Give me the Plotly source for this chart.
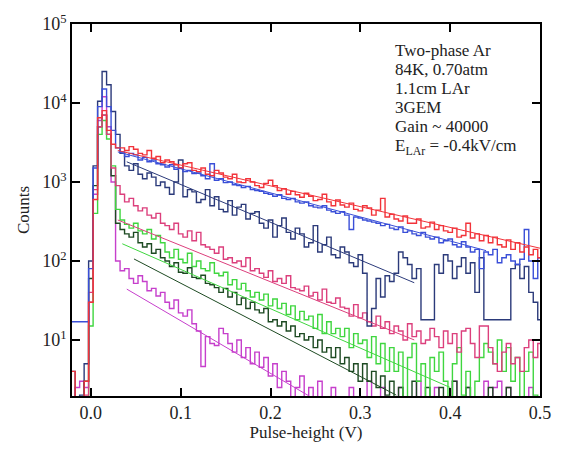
import numpy as np
import plotly.graph_objects as go

# bin width and first bin centre (V)
bin_width = 0.005
first_center = -0.02

# counts per bin, bins centred at -0.020, -0.015, ..., 0.500
red = [4, 1, 1, 3, 30, 600, 6500, 8000, 4500, 3000, 2700,
       2700, 2500, 2800, 2600, 2300, 2200, 2500, 2000, 2100, 1750,
       1900, 1800, 1650, 1500, 1700, 1750, 1400, 1350, 1500, 1250,
       1200, 1400, 1300, 1150, 1100, 1250, 1000, 980, 1100, 1000,
       900, 850, 960, 1050, 900, 780, 820, 700, 760, 690,
       640, 720, 660, 580, 600, 700, 560, 500, 590, 510,
       480, 540, 450, 430, 500, 470, 380, 440, 620, 360,
       390, 340, 320, 370, 300, 300, 340, 260, 270, 310,
       250, 280, 240, 230, 260, 200, 210, 300, 195, 220,
       180, 210, 170, 200, 160, 150, 185, 140, 170, 130,
       150, 120, 140, 110]
blue = [17, 17, 17, 17, 80, 1500, 9000, 15000, 9000, 4500, 2700,
        2400, 2100, 2300, 2200, 1900, 2050, 1800, 1900, 1700, 1650,
        1550, 1650, 1450, 1500, 1350, 1400, 1280, 1300, 1200, 1100,
        1700, 1050, 1100, 980, 1000, 920, 900, 850, 880, 800,
        780, 760, 720, 700, 660, 690, 620, 600, 620, 560,
        540, 560, 500, 480, 470, 500, 440, 420, 400, 420,
        380, 250, 360, 350, 330, 320, 310, 300, 280, 290,
        260, 250, 270, 230, 240, 220, 210, 230, 200, 190,
        200, 170, 180, 190, 160, 150, 175, 150, 130, 140,
        80, 130, 120, 140, 95, 110, 120, 100, 90, 105,
        250, 100, 60, 110]
navy = [4, 1, 2, 5, 100, 1600, 10500, 25000, 17000, 7800, 4000,
        2300, 1600, 1400, 1700, 1250, 1100, 1300, 1150, 900, 1000,
        850, 700, 1000, 1900, 650, 800, 750, 550, 600, 800,
        500, 650, 450, 420, 580, 380, 480, 520, 340, 400,
        420, 300, 260, 330, 200, 280, 350, 230, 190, 260,
        220, 150, 170, 280, 130, 160, 200, 120, 110, 150,
        130, 95, 85, 120, 70, 15, 25, 60, 35, 65,
        55, 70, 130, 110, 90, 60, 80, 18, 18, 18,
        90, 70, 120, 100, 60, 85, 110, 70, 95, 40,
        110, 18, 18, 18, 18, 18, 18, 80, 90, 60,
        85, 40, 30, 18]
pink = [1, 1, 1, 2, 40, 800, 5000, 7000, 4000, 1500, 900,
        700, 560, 620, 500, 430, 470, 380, 350, 400, 300,
        280, 250, 300, 220, 200, 240, 180, 230, 160, 150,
        140, 125, 150, 105, 110, 95, 100, 85, 110, 75,
        80, 70, 62, 75, 55, 60, 52, 65, 46, 44,
        42, 48, 36, 40, 32, 44, 30, 29, 34, 26,
        25, 20, 28, 19, 22, 17, 15, 20, 14, 17,
        12, 15, 13, 10, 16, 11, 13, 9, 10, 14,
        11, 8, 13, 9, 12, 7, 13, 14, 9, 6,
        15, 15, 8, 5, 4, 7, 9, 5, 6, 4,
        8, 10, 6, 9]
light_green = [1, 1, 1, 1, 15, 400, 4000, 6000, 3500, 1600, 450,
               330, 290, 260, 300, 240, 220, 250, 190, 210, 170,
               130, 110, 140, 105, 95, 125, 85, 100, 80, 75,
               95, 70, 65, 72, 50, 58, 44, 52, 42, 35,
               40, 32, 38, 27, 33, 25, 29, 21, 27, 18,
               23, 18, 20, 14, 21, 12, 17, 12, 14, 11,
               14, 8, 12, 9, 10, 6, 11, 5, 9, 4,
               8, 4, 7, 1, 6, 9, 3, 5, 1, 6,
               4, 7, 3, 1, 5, 8, 2, 4, 1, 3,
               6, 9, 7, 5, 10, 4, 8, 3, 6, 1,
               4, 7, 2, 1]
dark_green = [1, 1, 1, 3, 60, 900, 5000, 7000, 4000, 1200, 300,
              250, 220, 200, 230, 170, 150, 165, 125, 140, 110,
              100, 85, 95, 72, 70, 82, 62, 60, 66, 52,
              50, 46, 40, 45, 35, 40, 28, 34, 25, 30,
              24, 22, 25, 17, 18, 15, 17, 13, 15, 11,
              12, 10, 11, 8, 10, 7, 8, 6, 8, 5,
              6, 4, 5, 3, 5, 3, 4, 2.5, 3.5, 2,
              3, 1, 2.5, 1, 1, 3, 1, 1, 2.5, 1,
              1, 2.5, 1, 1, 3, 1, 1, 2.5, 1, 1,
              1, 1, 2.5, 1, 1, 1, 2.5, 1, 1, 1,
              1, 1, 1, 1]
magenta = [1, 2.5, 3, 2.5, 30, 700, 6000, 12000, 5000, 1000, 100,
           75, 80, 60, 52, 65, 55, 42, 45, 36, 40,
           30, 25, 32, 22, 20, 24, 16, 13, 4.6, 11,
           9, 8.5, 14, 12, 9, 7, 10, 6, 8, 5,
           7, 4.5, 6, 3.5, 5, 2.5, 4, 3, 1, 2.5,
           3.5, 1, 2.5, 1, 3, 1, 1, 2.5, 1, 1,
           1, 2.5, 1, 1, 1, 3, 1, 1, 2.5, 1,
           1, 1, 2.5, 1, 1, 1, 3, 1, 1, 1,
           2.5, 1, 1, 1, 3, 1, 1, 2.5, 1, 1,
           1, 3, 1, 2.5, 3, 1, 2.5, 1, 1, 1,
           1, 2.5, 1, 1]

# exponential fits: start/end voltage and fitted counts at those ends
fit_names = ["red", "blue", "navy", "pink", "light_green", "dark_green", "magenta"]
fit_x0 = [0.03, 0.03, 0.04, 0.03, 0.035, 0.048, 0.04]
fit_x1 = [0.50, 0.44, 0.36, 0.36, 0.40, 0.34, 0.243]
fit_y0 = [2500, 2400, 1800, 330, 165, 106, 44]
fit_y1 = [145, 135, 53, 10, 2.5, 2.0, 1.95]

info_lines = ["Two-phase Ar", "84K, 0.70atm", "1.1cm LAr", "3GEM",
              "Gain ~ 40000", "E<sub>LAr</sub> = -0.4kV/cm"]

y_tickvals = [10, 100, 1000, 10000, 100000]
y_ticktext = ["10<sup>1</sup>", "10<sup>2</sup>", "10<sup>3</sup>",
              "10<sup>4</sup>", "10<sup>5</sup>"]

colors = {
    "red": "#f2333a",
    "blue": "#3a4fd8",
    "navy": "#2b3a7a",
    "pink": "#dc3f7c",
    "light_green": "#3fd63f",
    "dark_green": "#1d4a22",
    "magenta": "#c63fcc",
}
series = {
    "magenta": magenta,
    "dark_green": dark_green,
    "light_green": light_green,
    "pink": pink,
    "navy": navy,
    "blue": blue,
    "red": red,
}

FONT = "Liberation Serif, Times New Roman, serif"
TXT = "#222222"
fig = go.Figure()

for name, vals in series.items():
    vals = np.asarray(vals, dtype=float)
    n = len(vals)
    left = first_center - bin_width / 2 + bin_width * np.arange(n + 1)
    y = np.append(vals, vals[-1])
    fig.add_trace(go.Scatter(x=left, y=y, mode="lines", line_shape="hv",
                             line=dict(color=colors[name], width=1.4),
                             showlegend=False, hoverinfo="skip"))

for name, x0, x1, y0, y1 in zip(fit_names, fit_x0, fit_x1, fit_y0, fit_y1):
    fig.add_trace(go.Scatter(x=[x0, x1], y=[y0, y1], mode="lines",
                             line=dict(color=colors[name], width=1.0),
                             showlegend=False, hoverinfo="skip"))

# info text block, one line per annotation (anchored at top of each line)
plot_top, plot_h = 18, 380
for i, line in enumerate(info_lines):
    py = 33 + 19.4 * i
    fig.add_annotation(x=0.686, y=1 - (py - plot_top) / plot_h,
                       xref="paper", yref="paper",
                       xanchor="left", yanchor="top", align="left",
                       showarrow=False, text=line,
                       font=dict(family=FONT, size=17, color=TXT))

axis_common = dict(showline=True, linecolor="black", linewidth=1.6,
                   mirror="ticks", ticks="inside", ticklen=8, tickwidth=1.5,
                   tickcolor="black", showgrid=False, zeroline=False,
                   tickfont=dict(family=FONT, size=18, color=TXT))

fig.update_layout(
    width=563, height=451,
    margin=dict(l=72, r=16, t=18, b=53),
    paper_bgcolor="white", plot_bgcolor="white",
    xaxis=dict(range=[-0.021, 0.5], dtick=0.1, tick0=0, tickformat=".1f",
               title=dict(text="Pulse-height (V)", standoff=4,
                          font=dict(family=FONT, size=17, color=TXT)),
               **axis_common),
    yaxis=dict(type="log", range=[np.log10(1.95), 5],
               tickvals=y_tickvals, ticktext=y_ticktext,
               title=dict(text="Counts", standoff=8,
                          font=dict(family=FONT, size=17, color=TXT)),
               **axis_common),
)

fig.write_html("out.html")
